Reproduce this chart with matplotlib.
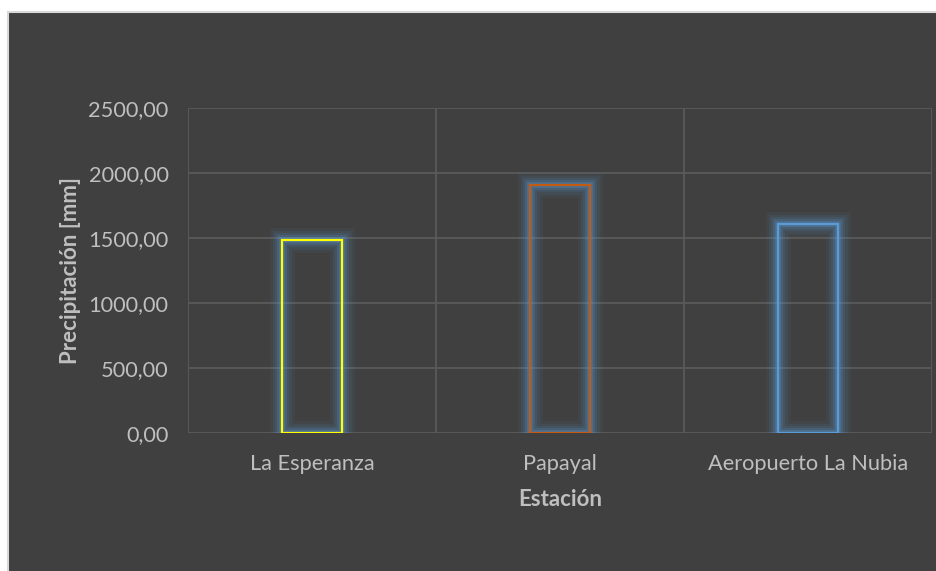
import numpy as np
import matplotlib.pyplot as plt
from matplotlib.patches import Rectangle
from matplotlib.ticker import FuncFormatter, MultipleLocator

# Annual precipitation per station
estaciones = ["La Esperanza", "Papayal", "Aeropuerto La Nubia"]
precipitacion = [1485.0, 1908.0, 1608.0]
colores = ["#FFFF00", "#C55A11", "#5B9BD5"]

bg = "#404040"
grid_color = "#5A5A5A"
text_color = "#BFBFBF"
glow = "#5B9BD5"

plt.rcParams['font.family'] = ['Lato', 'DejaVu Sans']

fig = plt.figure(figsize=(9.36, 5.71), dpi=100)
fig.patch.set_facecolor("white")

# dark chart panel, border only on the left and top edges
panel = Rectangle((8 / 936, -0.05), 1.1, 1.05 - 12 / 571, transform=fig.transFigure,
                  facecolor=bg, edgecolor="#D9D9D9", linewidth=1.5, zorder=-10)
fig.patches.append(panel)

ax = fig.add_axes([188 / 936, 1 - 433 / 571, (932 - 188) / 936, (433 - 108) / 571])
ax.set_facecolor(bg)

x = np.arange(len(estaciones))
width = 0.24

# soft blue glow around each bar outline
for lw, a in [(18, 0.06), (14, 0.08), (10, 0.12), (7, 0.18), (4, 0.28)]:
    ax.bar(x, precipitacion, width=width, fill=False, edgecolor=glow,
           linewidth=lw, alpha=a, joinstyle="miter", zorder=2)

ax.bar(x, precipitacion, width=width, fill=False, edgecolor=colores,
       linewidth=1.6, joinstyle="miter", zorder=3)

ax.set_xlim(-0.5, len(estaciones) - 0.5)
ax.set_ylim(0, 2500)
ax.yaxis.set_major_locator(MultipleLocator(500))
ax.yaxis.set_major_formatter(FuncFormatter(lambda v, p: f"{v:.2f}".replace(".", ",")))

# vertical gridlines sit between the categories
ax.set_xticks(x)
ax.set_xticks(np.arange(-0.5, len(estaciones)), minor=True)
ax.set_xticklabels(estaciones)
ax.grid(True, axis="y", color=grid_color, linewidth=1.3)
ax.grid(True, axis="x", which="minor", color=grid_color, linewidth=1.3)
ax.grid(False, axis="x", which="major")
ax.set_axisbelow(True)

for s in ax.spines.values():
    s.set_visible(False)
ax.tick_params(axis="both", which="both", length=0, colors=text_color, labelsize=15.7)
ax.tick_params(axis="y", pad=14)
ax.tick_params(axis="x", pad=15)

ax.set_xlabel("Estación", color=text_color, fontsize=16, fontweight="bold", labelpad=11)
ax.set_ylabel("Precipitación [mm]", color=text_color, fontsize=16, fontweight="bold", labelpad=5)

plt.savefig("out.png", dpi=100, facecolor=fig.get_facecolor())
